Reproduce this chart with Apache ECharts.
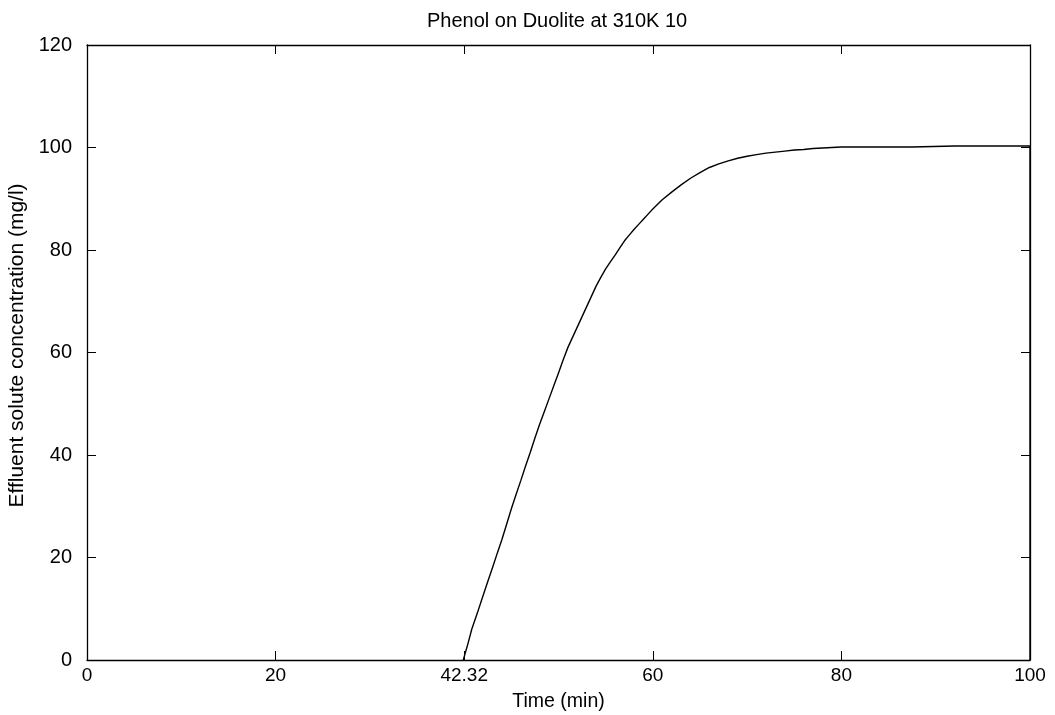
<!DOCTYPE html>
<html>
<head>
<meta charset="utf-8">
<script src="https://cdn.jsdelivr.net/npm/echarts@6/dist/echarts.min.js"></script>
<style>
  html, body { margin: 0; padding: 0; background: #fff; }
  #chart { width: 1055px; height: 715px; }
</style>
</head>
<body>
<div id="chart"></div>
<script>
// Breakthrough curve: time (min) vs effluent concentration (mg/l)
const timeMin = [39.9, 40.4, 40.8, 41.4, 41.9, 42.5, 43, 43.5, 44, 44.5, 45, 45.5, 46, 46.5, 47, 47.5, 48, 48.5, 49, 49.5,
  50, 50.5, 51, 51.5, 52, 52.5, 53, 53.5, 54, 54.5, 55, 55.5, 56, 56.5, 57, 57.5, 58, 58.5, 59, 59.5,
  60, 61, 62, 63, 64, 65, 66, 67, 68, 69, 70, 71, 72, 73, 74, 75, 76, 77, 78, 80, 84, 87.5, 87.6, 92, 96, 100, 100];
const concentration = [0, 3.2, 6, 9.2, 12, 15.3, 18, 20.8, 23.5, 26.5, 29.5, 32.3, 35, 37.8, 40.5, 43.3, 46, 48.5, 51, 53.5,
  56, 58.6, 61, 63, 65, 67, 69, 71, 73, 74.7, 76.3, 77.7, 79, 80.4, 81.8, 82.9, 84, 85, 86, 87,
  88, 89.8, 91.3, 92.7, 94, 95.1, 96.1, 96.8, 97.4, 97.9, 98.3, 98.6, 98.9, 99.1, 99.3, 99.5, 99.6, 99.8, 99.9, 100.1, 100.1, 100.1, 100.3, 100.3, 100.3, 100.3, 0];

// Bottom axis labels; the 40 position carries the breakthrough time
const xTickValues = [0, 20, 40, 60, 80, 100];
const xTickLabels = ['0', '20', '42.32', '60', '80', '100'];

const chart = echarts.init(document.getElementById('chart'));
const font = 'Liberation Sans, Arial, Helvetica, sans-serif';

function frameAxis(extra) {
  return Object.assign({
    axisLine: { show: true, onZero: false, lineStyle: { color: '#000', width: 1.3 } },
    axisTick: { show: true, inside: true, length: 9, lineStyle: { color: '#000', width: 1 } },
    splitLine: { show: false }
  }, extra);
}

chart.setOption({
  backgroundColor: '#fff',
  animation: false,
  title: {
    text: 'Phenol on Duolite at 310K 10',
    left: 422,
    top: 6,
    textStyle: { fontFamily: font, fontSize: 20, fontWeight: 'normal', color: '#000' }
  },
  grid: { left: 87, right: 25, top: 45, bottom: 55, containLabel: false, outerBoundsMode: 'none' },
  xAxis: [
    frameAxis({
      type: 'value', min: 0, max: 100, interval: 20, position: 'bottom',
      name: 'Time (min)', nameLocation: 'middle', nameGap: 32,
      nameTextStyle: { fontFamily: font, fontSize: 19.5, color: '#000' },
      axisLabel: {
        margin: 6, fontFamily: font, fontSize: 19, color: '#000',
        formatter: v => { const i = xTickValues.indexOf(v); return i >= 0 ? xTickLabels[i] : ''; }
      }
    }),
    frameAxis({
      type: 'value', min: 0, max: 100, interval: 20, position: 'top',
      axisLabel: { show: false }
    })
  ],
  yAxis: [
    frameAxis({
      type: 'value', min: 0, max: 120, interval: 20, position: 'left',
      name: 'Effluent solute concentration (mg/l)', nameLocation: 'middle', nameGap: 55,
      nameTextStyle: { fontFamily: font, fontSize: 21, color: '#000', padding: [0, 0, 0, 14] },
      axisLabel: { margin: 15, fontFamily: font, fontSize: 20, color: '#000' }
    }),
    frameAxis({
      type: 'value', min: 0, max: 120, interval: 20, position: 'right',
      axisLabel: { show: false }
    })
  ],
  series: [{
    type: 'line',
    data: timeMin.map((t, i) => [t, concentration[i]]),
    symbol: 'none',
    smooth: false,
    lineStyle: { color: '#000', width: 1.4 },
    xAxisIndex: 0,
    yAxisIndex: 0
  }]
});
</script>
</body>
</html>
